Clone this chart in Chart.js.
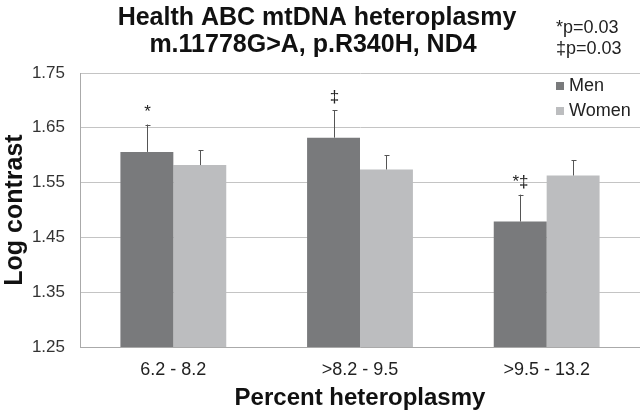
<!DOCTYPE html>
<html>
<head>
<meta charset="utf-8">
<script src="https://cdn.jsdelivr.net/npm/chart.js@4/dist/chart.umd.min.js"></script>
<style>
  body { margin: 0; background: #fff; }
  #wrap { width: 640px; height: 413px; }
</style>
</head>
<body>
<div id="wrap"><canvas id="myChart" width="640" height="413"></canvas></div>
<script>
const categories = ["6.2 - 8.2", ">8.2 - 9.5", ">9.5 - 13.2"];
const menValues = [1.606, 1.632, 1.479];
const womenValues = [1.582, 1.574, 1.563];
const menErrors = [0.05, 0.05, 0.049];
const womenErrors = [0.027, 0.026, 0.028];
const menMarks = ["*", "‡", "*‡"];
const yTicks = [1.25, 1.35, 1.45, 1.55, 1.65, 1.75];
const titleLines = ["Health ABC mtDNA heteroplasmy", "m.11778G>A, p.R340H, ND4"];
const pNotes = ["*p=0.03", "‡p=0.03"];

const menColor = "#797a7c";
const womenColor = "#bcbdbf";
const FONT = "'Liberation Sans', Arial, sans-serif";

const errorBars = {
    id: "errorBars",
    afterDatasetsDraw(chart) {
        const { ctx } = chart;
        const y = chart.scales.y;
        const errs = [menErrors, womenErrors];
        ctx.save();
        ctx.strokeStyle = "#555";
        ctx.lineWidth = 1;
        chart.data.datasets.forEach((ds, di) => {
            const meta = chart.getDatasetMeta(di);
            meta.data.forEach((bar, i) => {
                const top = y.getPixelForValue(ds.data[i] + errs[di][i]);
                const x = Math.round(bar.x) + 0.5;
                ctx.beginPath();
                ctx.moveTo(x, bar.y);
                ctx.lineTo(x, top);
                ctx.moveTo(x - 2, Math.round(top) + 0.5);
                ctx.lineTo(x + 3, Math.round(top) + 0.5);
                ctx.stroke();
                if (di === 0) {
                    ctx.fillStyle = "#222";
                    ctx.font = "17px " + FONT;
                    ctx.textAlign = "center";
                    ctx.textBaseline = "bottom";
                    ctx.fillText(menMarks[i], x, top - 4);
                }
            });
        });
        ctx.restore();
    },
};

const decorations = {
    id: "decorations",
    afterDraw(chart) {
        const { ctx } = chart;
        ctx.save();
        // title, two lines
        ctx.fillStyle = "#111";
        ctx.font = "bold 25px " + FONT;
        ctx.textAlign = "center";
        ctx.textBaseline = "alphabetic";
        ctx.fillText(titleLines[0], 317, 25);
        ctx.fillText(titleLines[1], 313, 52);
        // p-values
        ctx.font = "18px " + FONT;
        ctx.textAlign = "left";
        ctx.fillStyle = "#222";
        ctx.fillText(pNotes[0], 556, 33);
        ctx.fillText(pNotes[1], 556, 54);
        // legend inside plot area
        const items = [["Men", menColor], ["Women", womenColor]];
        ctx.textBaseline = "middle";
        items.forEach(([label, color], k) => {
            const cy = 86 + k * 25;
            ctx.fillStyle = color;
            ctx.fillRect(556, cy - 4, 8, 8);
            ctx.fillStyle = "#222";
            ctx.fillText(label, 569, cy);
        });
        ctx.restore();
    },
};

const ctx = document.getElementById("myChart").getContext("2d");
new Chart(ctx, {
    type: "bar",
    data: {
        labels: categories,
        datasets: [
            {
                label: "Men",
                data: menValues,
                backgroundColor: menColor,
                categoryPercentage: 0.567,
                barPercentage: 1.0,
            },
            {
                label: "Women",
                data: womenValues,
                backgroundColor: womenColor,
                categoryPercentage: 0.567,
                barPercentage: 1.0,
            },
        ],
    },
    options: {
        responsive: false,
        animation: false,
        layout: { padding: { top: 73, right: 0, bottom: 0, left: 0 } },
        plugins: {
            legend: { display: false },
            title: { display: false },
            tooltip: { enabled: false },
        },
        scales: {
            x: {
                afterFit(scale) {
                    scale.height = 66;
                },
                grid: { display: false, drawTicks: false },
                border: { color: "#aaa" },
                ticks: {
                    color: "#222",
                    font: { family: FONT, size: 18 },
                    padding: 12,
                },
                title: {
                    display: true,
                    text: "Percent heteroplasmy",
                    color: "#111",
                    font: { family: FONT, size: 24, weight: "bold" },
                    padding: { top: 2, bottom: 0 },
                },
            },
            y: {
                min: 1.25,
                max: 1.75,
                afterBuildTicks(scale) {
                    scale.ticks = yTicks.map((v) => ({ value: v }));
                },
                afterFit(scale) {
                    scale.width = 80;
                },
                grid: { color: "#c4c4c4", drawTicks: false },
                border: { color: "#aaa" },
                ticks: {
                    color: "#333",
                    font: { family: FONT, size: 17 },
                    padding: 15,
                    callback: (v) => Number(v).toFixed(2),
                },
                title: {
                    display: true,
                    text: "Log contrast",
                    color: "#111",
                    font: { family: FONT, size: 25, weight: "bold" },
                    padding: { top: 0, bottom: 0 },
                },
            },
        },
    },
    plugins: [errorBars, decorations],
});
</script>
</body>
</html>
